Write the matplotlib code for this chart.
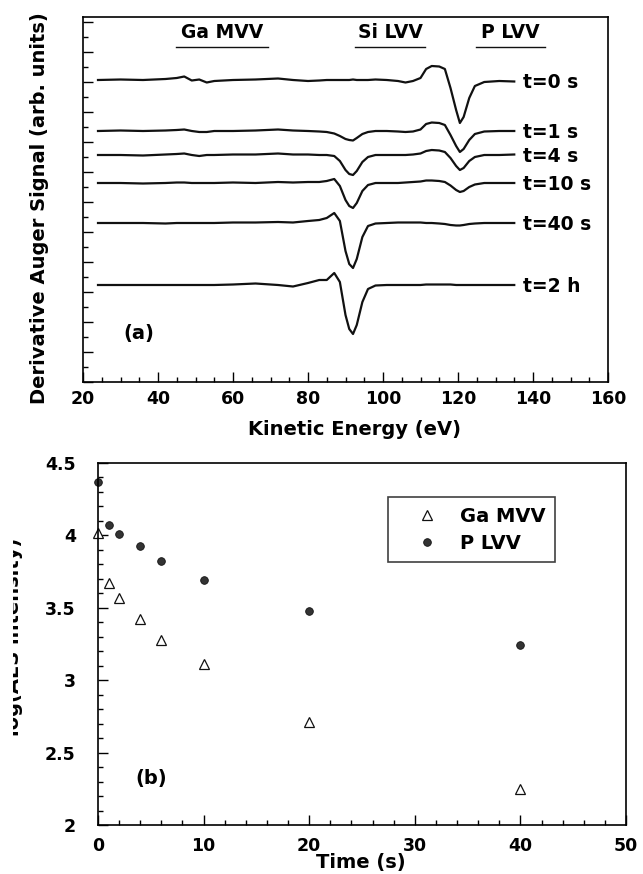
import numpy as np
import matplotlib
matplotlib.use('Agg')
import matplotlib.pyplot as plt
from matplotlib.ticker import MultipleLocator, FormatStrFormatter
from matplotlib.patches import Rectangle

plt.rcParams['font.family'] = 'DejaVu Sans'
plt.rcParams['font.weight'] = 'bold'
plt.rcParams['axes.labelweight'] = 'bold'

# (a) derivative Auger spectra (arb. units)
energy = [24, 30, 36, 42, 45, 47, 49, 51, 53, 55, 60, 66, 72, 76, 80, 83, 85, 87,
          88.5, 90, 91, 92, 93, 94.5, 96, 98, 101, 104, 106, 108, 110, 111.5, 113,
          115, 116.5, 118, 119.5, 120.5, 121.5, 123, 124.5, 127, 131, 135]

sig_0s = [0, 0.5, 0, 1, 2, 3.5, -0.5, 0.5, -2.5, -1, 0, 0.5, 1.5, 0, -1, -0.5, 0, 0,
          0, 0, 0, 0.5, 0, 0, 0, 0.5, 0, -1, -2.5, -1, 2, 11, 14,
          13.5, 11, -8, -30, -43, -37, -18, -6, -2, -1, -1.5]
sig_1s = [0, 0.5, 0, 0.5, 1, 1.5, 0, -1, -1, 0, 0, 0.5, 1.5, 0.5, 0, -0.5, -1, -2.5,
          -5, -8, -9, -9.5, -7, -3, -1, 0, 0, -0.5, -1, -0.5, 1.5, 7, 8.5,
          8, 6, -4, -15, -21, -18, -9, -3, -0.5, 0, 0]
sig_4s = [0, 0, -0.5, 0.5, 1, 1.5, 0, -1, 0, 0, 0.5, 0.5, 1.5, 0.5, 0.5, 0, 0, -1,
          -6, -15, -19, -20, -16, -7, -2, 0, 0, 0, 0, 0.5, 1.5, 4, 5,
          4.5, 3, -3, -11, -15, -13, -6, -2, 0, 0, 0.5]
sig_10s = [0, 0, -0.5, 0, 0.5, 0.5, 0, 0, 0, 0, 0.5, 0, 1, 0.5, 1, 1, 2, 4,
           -3, -17, -23, -25, -20, -8, -2, 0, 0, 0, 0.5, 1, 1.5, 2.5, 2.5,
           2, 1, -2.5, -7, -9, -8, -4, -1.5, 0, 0, 0]
sig_40s = [0, 0, 0, -0.5, 0, 0, 0, 0, 0, 0, 0.5, 0.5, 1, 0.5, 2, 3, 5, 10,
           2, -28, -41, -45, -36, -14, -3, -0.5, 0, 0.5, 0.5, 0.5, 0.5, 0, 0,
           -0.5, -1, -2, -2.5, -2.5, -2, -1, -0.5, 0, 0, 0]
sig_2h = [0, 0, 0, 0, 0, 0, 0, 0, 0, 0, 0.5, 1.5, 0, -1.5, 2, 5, 5, 12,
          3, -30, -44, -49, -40, -17, -4, -0.5, 0, 0, 0, 0, 0, 0.5, 0.5,
          0.5, 0.5, 0.5, 0, 0, 0, 0, 0, 0, 0, 0]

spectra = [sig_0s, sig_1s, sig_4s, sig_10s, sig_40s, sig_2h]
spec_labels = ['t=0 s', 't=1 s', 't=4 s', 't=10 s', 't=40 s', 't=2 h']
offsets = [302, 251, 227, 199, 159, 97]

peak_names = ['Ga MVV', 'Si LVV', 'P LVV']

# (b) log(AES intensity) vs sputter time
time_s = [0, 1, 2, 4, 6, 10, 20, 40]
ga_mvv = [4.02, 3.67, 3.57, 3.42, 3.28, 3.11, 2.71, 2.25]
p_lvv = [4.37, 4.07, 4.01, 3.93, 3.82, 3.69, 3.48, 3.24]

W, H = 643, 874
fig = plt.figure(figsize=(W / 100, H / 100), dpi=100)

def px_box(x0, y0, x1, y1):
    return [x0 / W, 1 - y1 / H, (x1 - x0) / W, (y1 - y0) / H]

ax1 = fig.add_axes(px_box(83, 17, 608, 382))
ax2 = fig.add_axes(px_box(98, 463, 626, 825))

# ---- panel (a)
for sig, off, lab in zip(spectra, offsets, spec_labels):
    ax1.plot(energy, np.array(sig) + off, color='#111111', lw=1.6)
    ax1.text(137.3, off - 2, lab, fontsize=13.5, ha='left', va='center')

for name, xc, (u0, u1) in zip(peak_names, [57, 102, 134],
                              [(44.9, 69.2), (92.5, 111.3), (124.8, 143.2)]):
    ax1.text(xc, 350, name, fontsize=13.5, ha='center', va='center')
    ax1.plot([u0, u1], [335, 335], color='#111111', lw=1.0)

ax1.text(35, 49, '(a)', fontsize=14, ha='center', va='center')

ax1.set_xlim(20, 160)
ax1.set_ylim(0, 365)
ax1.xaxis.set_major_locator(MultipleLocator(20))
ax1.xaxis.set_minor_locator(MultipleLocator(5))
ax1.yaxis.set_major_locator(MultipleLocator(30))
ax1.yaxis.set_minor_locator(MultipleLocator(15))
ax1.tick_params(which='both', direction='in', top=False, right=False,
                labelleft=False, width=1)
ax1.tick_params(which='major', length=7, labelsize=12.5, pad=5.5)
ax1.tick_params(which='minor', length=3.5)
ax1.set_xlabel('Kinetic Energy (eV)', fontsize=14, fontweight='bold')
ax1.xaxis.set_label_coords(0.518, -0.104)

# ---- panel (b)
ax2.plot(time_s, ga_mvv, ls='none', marker='^', ms=7.5, mfc='white', mec='#111111',
         mew=0.9, label='Ga MVV', clip_on=False)
ax2.plot(time_s, p_lvv, ls='none', marker='o', ms=5.5, mfc='#333333', mec='#111111',
         mew=0.6, label='P LVV', clip_on=False)
ax2.text(5, 2.32, '(b)', fontsize=14, ha='center', va='center')

ax2.set_xlim(0, 50)
ax2.set_ylim(2, 4.5)
ax2.xaxis.set_major_locator(MultipleLocator(10))
ax2.xaxis.set_minor_locator(MultipleLocator(2))
ax2.yaxis.set_major_locator(MultipleLocator(0.5))
ax2.yaxis.set_minor_locator(MultipleLocator(0.1))
ax2.yaxis.set_major_formatter(FormatStrFormatter('%g'))
ax2.tick_params(which='both', direction='in', top=False, right=False, width=1)
ax2.tick_params(which='major', length=7, labelsize=12.5)
ax2.tick_params(axis='x', which='major', pad=8.5)
ax2.tick_params(axis='y', which='major', pad=16)
ax2.tick_params(which='minor', length=3.5)
ax2.set_xlabel('Time (s)', fontsize=14, fontweight='bold')
ax2.xaxis.set_label_coords(0.498, -0.077)

leg = ax2.legend(loc='upper left', bbox_to_anchor=(0.549, 0.906), frameon=True,
                 fancybox=False, edgecolor='#111111', fontsize=14, handlelength=3.0,
                 handletextpad=0.2, borderpad=0.5, labelspacing=0.4, borderaxespad=0)
leg.get_frame().set_linewidth(1.2)

for ax in (ax1, ax2):
    for sp in ax.spines.values():
        sp.set_linewidth(1.2)

# y labels: top one kept whole, bottom one half cut as in the scan
fig.text(45 / W, 1 - 404 / H, 'Derivative Auger Signal (arb. units)', fontsize=14,
         rotation=90, rotation_mode='anchor', ha='left', va='baseline')
ylab = fig.text(19 / W, 1 - 637 / H, 'log(AES intensity)', fontsize=14,
                rotation=90, rotation_mode='anchor', ha='center', va='baseline')
ylab.set_clip_path(Rectangle((13 / W, 0), 1, 1, transform=fig.transFigure))

fig.savefig('out.png', dpi=100)
